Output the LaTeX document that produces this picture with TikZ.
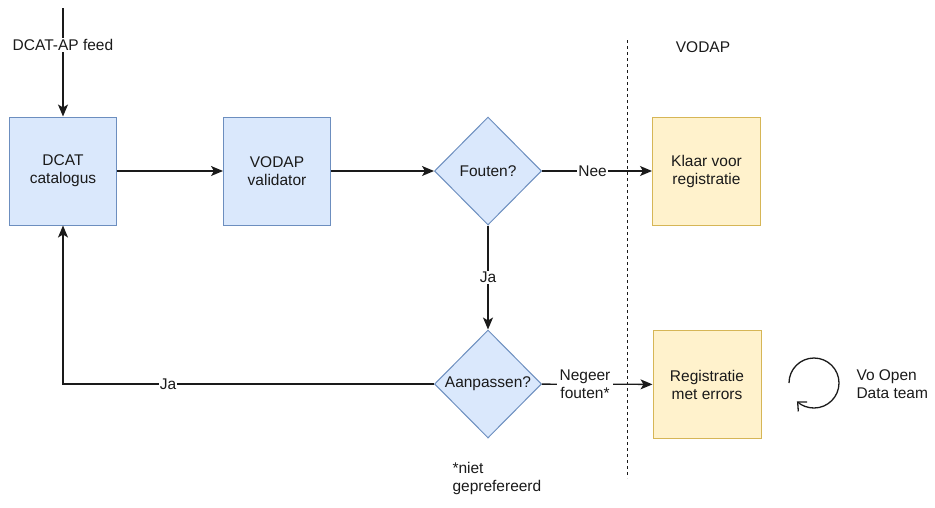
\documentclass[tikz,border=0pt]{standalone}
\usepackage{fontspec}
\setmainfont{Liberation Sans}
\usetikzlibrary{shapes.geometric,arrows.meta}
\definecolor{bfill}{HTML}{DAE8FC}
\definecolor{bline}{HTML}{6C8EBF}
\definecolor{yfill}{HTML}{FFF2CC}
\definecolor{yline}{HTML}{D6B656}
\definecolor{ink}{HTML}{1A1A1A}
\begin{document}
\begin{tikzpicture}[x=1pt,y=-1pt,
  every node/.style={font=\fontsize{15.5}{18}\selectfont, text=ink},
  bluebox/.style={draw=bline, fill=bfill, line width=1pt, minimum width=107pt, minimum height=108pt, align=center, inner sep=0pt},
  yellowbox/.style={draw=yline, fill=yfill, line width=1pt, minimum width=108pt, minimum height=108pt, align=center, inner sep=0pt},
  decision/.style={draw=bline, fill=bfill, line width=1pt, diamond, aspect=1, minimum width=107pt, minimum height=108pt, align=center, inner sep=0pt},
  conn/.style={draw=ink, line width=1.3pt, -{Stealth[length=12pt,width=10pt,inset=3pt]}},
  lbl/.style={fill=white, inner sep=1pt, align=center}]
\useasboundingbox (0,0) rectangle (935,507);

\node[bluebox] (dcat) at (63,171) {DCAT\\catalogus};
\node[bluebox] (val) at (277,171) {VODAP\\validator};
\node[decision] (fout) at (488,171) {Fouten?};
\node[yellowbox] (klaar) at (706.5,171) {Klaar voor\\registratie};
\node[decision] (aanp) at (488,384) {Aanpassen?};
\node[yellowbox] (reg) at (707,384.5) {Registratie\\met errors};

\coordinate (feedtop) at (63,8);
\coordinate (dtop) at (627,40);
\coordinate (dbot) at (627,478);
\coordinate (corner) at (63,384);

\draw[draw=ink, line width=1pt, dash pattern=on 3pt off 3pt] (dtop) -- (dbot);
\node (vodap) at (703,47) {VODAP};

\draw[conn] (feedtop) -- node[lbl, pos=0.34] {DCAT-AP feed} (dcat.north);
\draw[conn] (dcat) -- (val);
\draw[conn] (val) -- (fout);
\draw[conn] (fout) -- node[lbl, pos=0.46] {Nee} (klaar);
\draw[conn] (fout) -- node[lbl, pos=0.5] {Ja} (aanp);
\draw[conn] (aanp) -- (reg);
\node[lbl, inner sep=3pt] (neg) at (585,384) {Negeer\\fouten*};
\draw[conn] (aanp.west) -- (corner) -- (dcat.south);
\node[lbl] (ja2) at (168,384) {Ja};

\node[align=left, anchor=north west] (niet) at (449,459) {*niet\\geprefereerd};

\coordinate (cyc) at (814,383);
\draw[draw=ink, line width=1.3pt, -{Straight Barb[length=7pt,width=13pt]}] ([shift={(-180:25)}]cyc) arc[start angle=-180, end angle=133, radius=25];
\node[align=left, anchor=west] (team) at (853,384) {Vo Open\\Data team};
\end{tikzpicture}
\end{document}
